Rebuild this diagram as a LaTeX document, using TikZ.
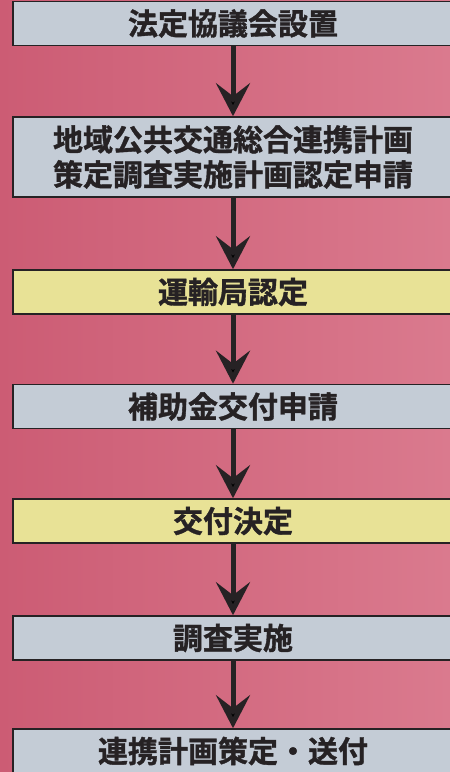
\documentclass[tikz,border=0pt]{standalone}
\usepackage{fontspec}
\newfontfamily\jpfont{Noto Sans CJK JP}[BoldFont={Noto Sans CJK JP Bold},BoldFeatures={FakeBold=1.2}]
\usetikzlibrary{arrows.meta}
\definecolor{bgdark}{RGB}{204,92,116}
\definecolor{bgmid}{RGB}{224,136,154}
\definecolor{bgright}{RGB}{218,122,142}
\definecolor{boxgrey}{RGB}{196,204,214}
\definecolor{boxyellow}{RGB}{232,226,150}
\definecolor{inkdark}{RGB}{38,34,36}

\begin{document}
\begin{tikzpicture}[x=1pt,y=1pt,
  main node/.style={draw=inkdark,line width=1.6pt,minimum width=440pt,minimum height=44pt,inner sep=0pt,align=center,text=inkdark,font=\jpfont\bfseries\fontsize{30}{35}\selectfont},
  grey node/.style={main node,fill=boxgrey},
  yellow node/.style={main node,fill=boxyellow}]

  \clip (0,0) rectangle (450,-772);
  \fill[left color=bgdark,middle color=bgmid,right color=bgright] (0,0) rectangle (450,-772);

  \node[grey node] (n0) at (233,-23.5) {法定協議会設置};
  \node[grey node,minimum height=80pt] (n1) at (233,-157) {地域公共交通総合連携計画\\策定調査実施計画認定申請};
  \node[yellow node] (n2) at (233,-292) {運輸局認定};
  \node[grey node] (n3) at (233,-406.5) {補助金交付申請};
  \node[yellow node] (n4) at (233,-521) {交付決定};
  \node[grey node] (n5) at (233,-638) {調査実施};
  \node[grey node] (n6) at (233,-751) {連携計画策定・送付};
 \path[draw=inkdark,line width=5pt,-{Stealth[length=33pt,width=34pt,inset=13pt]}]
 (n0) edge (n1)
 (n1) edge (n2)
 (n2) edge (n3)
 (n3) edge (n4)
 (n4) edge (n5)
 (n5) edge (n6);

\end{tikzpicture}
\end{document}
